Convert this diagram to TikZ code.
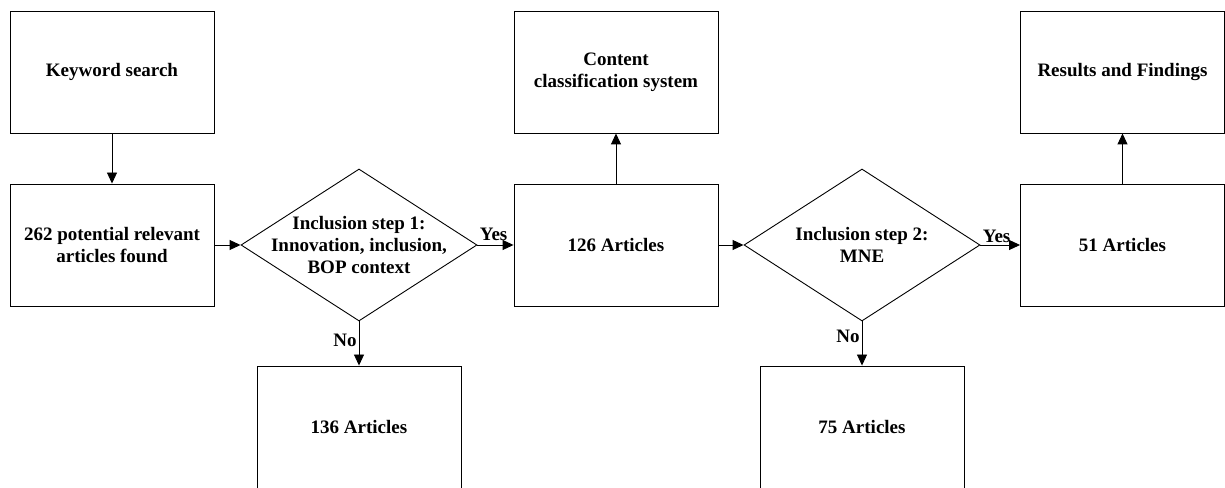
\documentclass[tikz,border=0pt]{standalone}
\usepackage{fontspec}
\setmainfont{Liberation Serif}
\usetikzlibrary{arrows.meta,shapes.geometric}
\definecolor{INK}{HTML}{000000}

\begin{document}
\begin{tikzpicture}[x=1pt,y=1pt]
\tikzset{box/.style={draw=INK,line width=0.9pt,minimum width=204pt,minimum height=122pt,inner sep=0pt,
 align=center,font=\bfseries\fontsize{19}{22}\selectfont},
 diam/.style={diamond,draw=INK,line width=0.9pt,minimum width=236pt,minimum height=152pt,inner sep=0pt},
 txt/.style={align=center,inner sep=0pt,font=\bfseries\fontsize{19}{22}\selectfont},
 arr/.style={-{Triangle[length=11pt,width=10pt]},line width=0.9pt,INK},
 lbl/.style={font=\bfseries\fontsize{19}{22}\selectfont,inner sep=2pt}}
\useasboundingbox (0,0) rectangle (1225,487);
% top row
\node[box] (kw) at (112,415) {Keyword search};
\node[box] (ccs) at (616,415) {Content\\classification system};
\node[box] (res) at (1122.5,415) {Results and Findings};
% middle row
\node[box] (found) at (112,242) {262 potential relevant\\articles found};
\node[diam] (d1) at (359,242) {};
\node[txt] (d1t) at (d1) {Inclusion step 1:\\Innovation, inclusion,\\BOP context};
\node[box] (a126) at (616,242) {126 Articles};
\node[diam] (d2) at (862,242) {};
\node[txt] (d2t) at (d2) {Inclusion step 2:\\MNE};
\node[box] (a51) at (1122.5,242) {51 Articles};
% bottom row
\node[box] (a136) at (359,60) {136 Articles};
\node[box] (a75) at (862,60) {75 Articles};
% arrows
\draw[arr] (kw.south) -- (found.north);
\draw[arr] (found.east) -- (d1.west);
\draw[arr] (d1.east) -- node[lbl,pos=0,anchor=south west,yshift=2pt]{Yes} (a126.west);
\draw[arr] (d1.south) -- node[lbl,pos=0.42,left]{No} (a136.north);
\draw[arr] (a126.north) -- (ccs.south);
\draw[arr] (a126.east) -- (d2.west);
\draw[arr] (d2.east) -- node[lbl,pos=0,anchor=south west]{Yes} (a51.west);
\draw[arr] (d2.south) -- node[lbl,pos=0.33,left]{No} (a75.north);
\draw[arr] (a51.north) -- (res.south);
\end{tikzpicture}
\end{document}
